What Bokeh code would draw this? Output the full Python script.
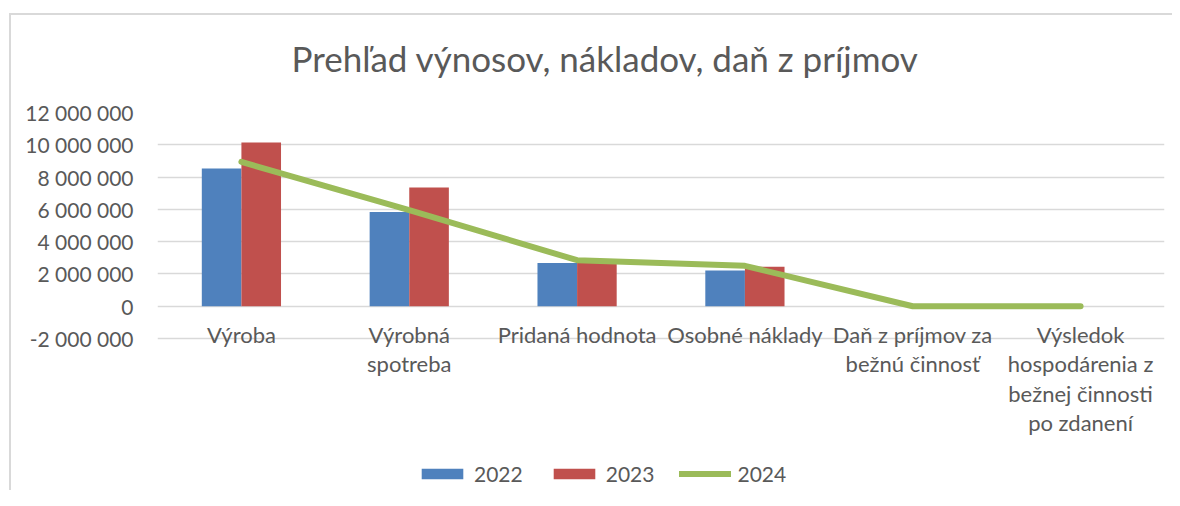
from bokeh.plotting import figure
from bokeh.models import (ColumnDataSource, FactorRange, Range1d, Legend, LegendItem,
                          FixedTicker, Title, CustomJSTickFormatter)
from bokeh.core.properties import value
from bokeh.transform import dodge
from bokeh.embed import file_html
from bokeh.resources import INLINE

categories = ["Výroba", "Výrobná spotreba", "Pridaná hodnota", "Osobné náklady",
              "Daň z príjmov za bežnú činnosť",
              "Výsledok hospodárenia z bežnej činnosti po zdanení"]
tick_labels = ["Výroba", "Výrobná\nspotreba", "Pridaná hodnota", "Osobné náklady",
               "Daň z príjmov za\nbežnú činnosť",
               "Výsledok\nhospodárenia z\nbežnej činnosti\npo zdanení"]
v2022 = [8530000, 5840000, 2680000, 2210000, 0, 0]
v2023 = [10140000, 7350000, 2680000, 2440000, 0, 0]
v2024 = [8940000, 5950000, 2850000, 2500000, 0, 0]
y_ticks = [-2000000, 0, 2000000, 4000000, 6000000, 8000000, 10000000, 12000000]

FONT = "Lato"
GREY = "#595959"
LINE_STEP = 29.5  # px between wrapped label lines

src = ColumnDataSource(dict(cat=categories, v2022=v2022, v2023=v2023, v2024=v2024))

# one row per wrapped line of each category label
lab_cat, lab_txt, lab_off = [], [], []
for c, t in zip(categories, tick_labels):
    for i, part in enumerate(t.split("\n")):
        lab_cat.append(c)
        lab_txt.append(part)
        lab_off.append(28 + LINE_STEP * i)
lab_src = ColumnDataSource(dict(cat=lab_cat, txt=lab_txt, off=lab_off,
                                zero=[0] * len(lab_cat)))

chart_border = ("linear-gradient(#d9d9d9, #d9d9d9) 9px 13px / 2px calc(100% - 13px) no-repeat, "
                "linear-gradient(#d9d9d9, #d9d9d9) 9px 13px / calc(100% - 9px) 2px no-repeat, "
                "#ffffff")

p = figure(x_range=FactorRange(*categories, range_padding=0),
           y_range=Range1d(-11416000, 12000000),
           frame_width=1007, frame_height=378, output_backend="svg", toolbar_location=None,
           min_border_left=157, min_border_right=8, min_border_top=112,
           min_border_bottom=0,
           styles={"background": chart_border})
p.outline_line_color = None
p.background_fill_color = "white"
p.border_fill_color = None

b1 = p.vbar(x=dodge("cat", -0.118, range=p.x_range), top="v2022", width=0.236,
            source=src, fill_color="#4f81bd", line_color=None)
b2 = p.vbar(x=dodge("cat", 0.118, range=p.x_range), top="v2023", width=0.236,
            source=src, fill_color="#c0504d", line_color=None)
ln = p.line(x="cat", y="v2024", source=src, line_color="#9bbb59", line_width=6,
            line_cap="round", line_join="round")

p.text(x="cat", y="zero", text="txt", y_offset="off", source=lab_src,
       text_align="center", text_baseline="middle", text_font=value(FONT),
       text_font_size="22px", text_color=GREY)

# y axis
yax = p.yaxis[0]
yax.ticker = FixedTicker(ticks=y_ticks)
yax.formatter = CustomJSTickFormatter(code="""
    const s = Math.abs(tick).toFixed(0).replace(/\\B(?=(\\d{3})+(?!\\d))/g, ' ');
    return (tick < 0 ? '-' : '') + s;
""")
yax.axis_line_color = None
yax.major_tick_line_color = None
yax.minor_tick_line_color = None
yax.major_label_text_font = FONT
yax.major_label_text_font_size = "21px"
yax.major_label_text_color = GREY
yax.major_label_standoff = 18

p.ygrid.ticker = FixedTicker(ticks=y_ticks)
p.ygrid.grid_line_color = "#d9d9d9"
p.ygrid.grid_line_width = 1.5
p.xgrid.grid_line_color = None
p.xaxis.visible = False

p.title = Title(text="Prehľad výnosov, nákladov, daň z príjmov", align="left",
                text_font=FONT, text_font_size="35px", text_font_style="normal",
                text_color=GREY, offset=134, standoff=68)

legend = Legend(items=[LegendItem(label="2022", renderers=[b1]),
                       LegendItem(label="2023", renderers=[b2]),
                       LegendItem(label="2024", renderers=[ln])],
                orientation="horizontal", location=(259, 4),
                glyph_width=52, glyph_height=13, spacing=25,
                label_text_font=FONT, label_text_font_size="21px",
                label_text_color=GREY, border_line_color=None,
                background_fill_alpha=0, label_standoff=6, padding=0, margin=0)
p.add_layout(legend)

open("out.html", "w").write(file_html(p, INLINE))
